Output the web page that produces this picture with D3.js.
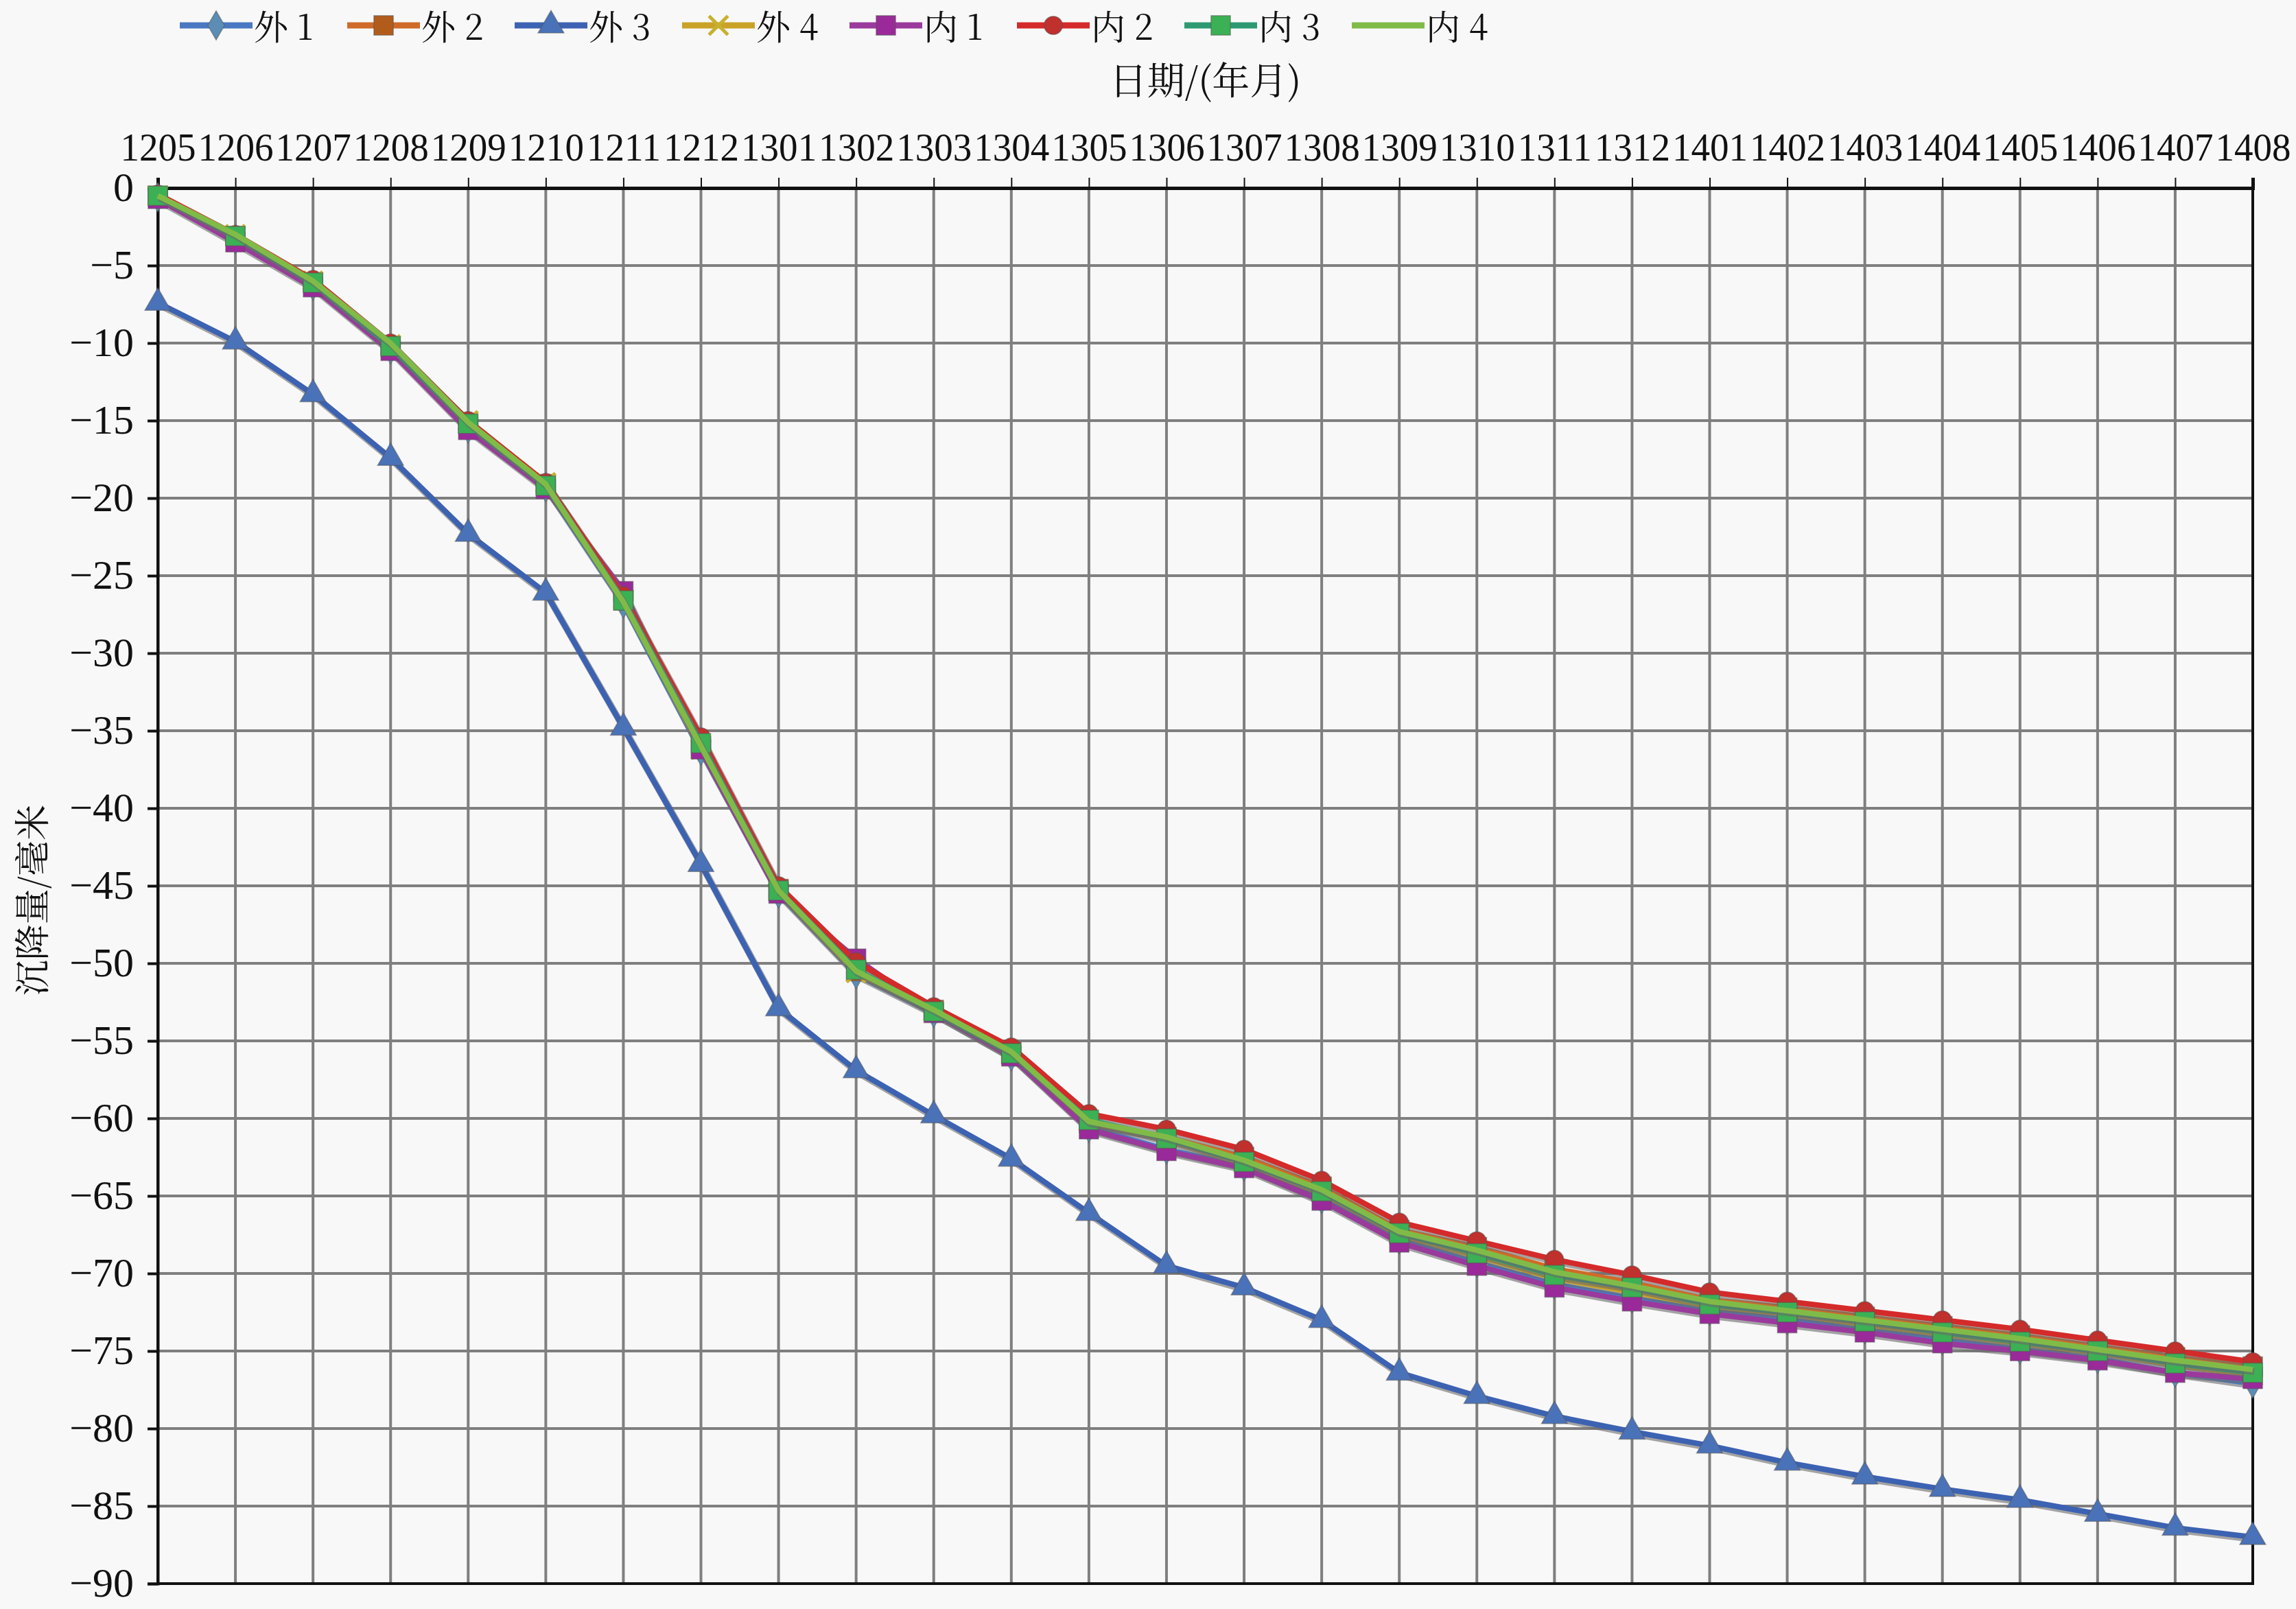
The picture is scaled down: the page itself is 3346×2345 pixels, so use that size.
<!DOCTYPE html>
<html><head><meta charset="utf-8">
<script src="https://cdn.jsdelivr.net/npm/d3@7"></script>
<style>html,body{margin:0;padding:0;background:#f8f8f8;}svg{display:block;}</style>
</head><body>
<svg id="c" width="3346" height="2345"></svg>
<script>
const categories = ["1205","1206","1207","1208","1209","1210","1211","1212","1301","1302","1303","1304","1305","1306","1307","1308","1309","1310","1311","1312","1401","1402","1403","1404","1405","1406","1407","1408"];
const yTicks = [0,-5,-10,-15,-20,-25,-30,-35,-40,-45,-50,-55,-60,-65,-70,-75,-80,-85,-90];
const seriesNames = ["外 1","外 2","外 3","外 4","内 1","内 2","内 3","内 4"];
const wai1 = [-0.6,-3.3,-6.3,-10.4,-15.5,-19.3,-26.8,-36.3,-45.5,-50.7,-53.2,-56.0,-60.6,-62.0,-63.1,-65.2,-67.8,-69.3,-70.7,-71.6,-72.4,-73.0,-73.6,-74.3,-74.9,-75.5,-76.4,-77.1];
const wai2 = [-0.5,-3.1,-6.1,-10.2,-15.2,-19.1,-26.6,-36.0,-45.2,-50.5,-53.0,-55.7,-60.3,-61.2,-62.5,-64.4,-67.2,-68.3,-69.7,-70.6,-71.7,-72.2,-72.8,-73.4,-74.0,-74.7,-75.4,-76.0];
const wai3 = [-7.4,-9.9,-13.3,-17.4,-22.3,-26.1,-34.8,-43.6,-52.9,-56.9,-59.8,-62.6,-66.1,-69.5,-70.9,-73.0,-76.4,-77.9,-79.2,-80.2,-81.1,-82.2,-83.1,-83.9,-84.6,-85.5,-86.4,-87.0];
const wai4 = [-0.5,-3.0,-6.0,-10.1,-15.0,-19.0,-26.5,-36.2,-45.4,-50.6,-53.1,-55.9,-60.2,-61.4,-62.9,-64.8,-67.5,-68.9,-70.3,-71.2,-72.1,-72.6,-73.3,-73.9,-74.5,-75.1,-75.9,-76.6];
const nei1 = [-0.7,-3.5,-6.4,-10.5,-15.6,-19.4,-26.0,-36.2,-45.5,-49.7,-53.2,-56.0,-60.7,-62.1,-63.2,-65.3,-68.0,-69.5,-70.9,-71.8,-72.6,-73.2,-73.8,-74.5,-75.0,-75.6,-76.4,-76.8];
const nei2 = [-0.4,-3.0,-5.9,-10.0,-15.0,-19.0,-26.3,-35.4,-45.0,-49.9,-52.8,-55.4,-59.7,-60.7,-62.0,-64.0,-66.7,-67.9,-69.1,-70.1,-71.2,-71.8,-72.4,-73.0,-73.6,-74.3,-75.0,-75.7];
const nei3 = [-0.5,-3.1,-6.1,-10.2,-15.2,-19.2,-26.6,-35.8,-45.3,-50.4,-53.1,-55.8,-60.1,-61.3,-62.8,-64.7,-67.4,-68.7,-70.1,-70.9,-72.0,-72.5,-73.1,-73.8,-74.4,-75.0,-75.8,-76.4];
const nei4 = [-0.5,-3.0,-6.0,-10.0,-15.1,-19.1,-26.7,-36.0,-45.3,-50.5,-53.0,-55.7,-60.2,-61.2,-62.7,-64.6,-67.3,-68.5,-69.9,-70.8,-71.8,-72.4,-73.0,-73.6,-74.2,-74.9,-75.6,-76.2];
const seriesValues = [wai1,wai2,wai3,wai4,nei1,nei2,nei3,nei4];
const lineColors = ["#4a78c2","#d06a28","#3c62b2","#c9a227","#9a3a9c","#d42a2a","#2e9a72","#80bb48"];
const markerColors = ["#5b8db5","#b25c1c","#4a72b8","#c8b030","#9a2a9a","#c0302c","#3cb054",null];
const markerTypes = ["diamond","square","triangle","x","square","circle","square","none"];

const svg = d3.select("#c");
svg.append("rect").attr("width",3346).attr("height",2345).attr("fill","#f8f8f8");
const L=230,R=3283,T=274,B=2308;
const x = d3.scalePoint().domain(categories).range([L,R]);
const y = d3.scaleLinear().domain([-90,0]).range([B,T]);
const serif = "'Liberation Serif','Times New Roman',serif";
const cjk = "'Noto Serif CJK SC','Liberation Serif','Noto Sans CJK SC',serif";

// grid
svg.append("g").selectAll("line").data(yTicks).join("line")
  .attr("x1",L).attr("x2",R).attr("y1",d=>y(d)).attr("y2",d=>y(d))
  .attr("stroke","#7f7f7f").attr("stroke-width",4);
svg.append("g").selectAll("line").data(categories).join("line")
  .attr("x1",d=>x(d)).attr("x2",d=>x(d)).attr("y1",T).attr("y2",B)
  .attr("stroke","#7f7f7f").attr("stroke-width",4);

// frame
svg.append("rect").attr("x",L).attr("y",T).attr("width",R-L).attr("height",B-T)
  .attr("fill","none").attr("stroke","#111").attr("stroke-width",4);

// top axis
const xAxis = d3.axisTop(x).tickSize(15).tickPadding(22).tickFormat(d=>d);
const gx = svg.append("g").attr("transform",`translate(0,${T})`).call(xAxis);
gx.select(".domain").attr("stroke","#111").attr("stroke-width",5);
gx.selectAll(".tick line").attr("stroke","#111").attr("stroke-width",2);
gx.selectAll(".tick text").attr("font-family",serif).attr("font-size",58).attr("fill","#111")
  .attr("transform","scale(0.95,1)").attr("x",0).attr("y",-40).attr("dy",0);

// left axis
const yAxis = d3.axisLeft(y).tickValues(yTicks).tickSize(15).tickPadding(20).tickFormat(d=>d===0?"0":"\u2212"+Math.abs(d));
const gy = svg.append("g").attr("transform",`translate(${L},0)`).call(yAxis);
gy.select(".domain").attr("stroke","#111").attr("stroke-width",4);
gy.selectAll(".tick line").attr("stroke","#111").attr("stroke-width",4);
gy.selectAll(".tick text").attr("font-family",serif).attr("font-size",60).attr("fill","#111").attr("dy","0.3em");

// titles
svg.append("text").attr("x",(L+R)/2).attr("y",137).attr("text-anchor","middle")
  .attr("font-family",cjk).attr("font-size",55).attr("fill","#111").text("日期/(年月)");
svg.append("text").attr("transform",`translate(66,1312) rotate(-90)`).attr("text-anchor","middle")
  .attr("font-family",cjk).attr("font-size",52).attr("fill","#111").text("沉降量/毫米");

function symbolPath(type){
  if(type==="diamond") return d3.symbol(d3.symbolDiamond,520)();
  if(type==="square") return d3.symbol(d3.symbolSquare,800)();
  if(type==="triangle") return d3.symbol(d3.symbolTriangle,620)();
  if(type==="circle") return d3.symbol(d3.symbolCircle,560)();
  if(type==="x") return d3.symbol(d3.symbolX,500)();
  return null;
}
function drawMarker(g,type,color){
  const p = symbolPath(type);
  if(!p) return;
  if(type==="x") g.append("path").attr("d",p).attr("fill","none").attr("stroke",color).attr("stroke-width",5);
  else g.append("path").attr("d",p).attr("fill",color).attr("stroke","#555").attr("stroke-opacity",0.5).attr("stroke-width",1.5);
}

const line = d3.line().x((d,i)=>x(categories[i])).y(d=>y(d));
seriesValues.forEach((vals,s)=>{
  const g = svg.append("g");
  g.append("path").datum(vals).attr("d",line).attr("fill","none")
    .attr("stroke","#6a6a6a").attr("stroke-width",10).attr("transform","translate(2,3)").attr("stroke-opacity",0.6);
  g.append("path").datum(vals).attr("d",line).attr("fill","none")
    .attr("stroke",lineColors[s]).attr("stroke-width",8).attr("stroke-linejoin","round");
  vals.forEach((v,i)=>{
    const mg = g.append("g").attr("transform",`translate(${x(categories[i])},${y(v)})`);
    drawMarker(mg,markerTypes[s],markerColors[s]);
  });
});

// legend
const lg = svg.append("g");
seriesNames.forEach((n,k)=>{
  const x0 = 262 + k*244, yc = 37;
  const it = lg.append("g");
  it.append("line").attr("x1",x0).attr("x2",x0+106).attr("y1",yc).attr("y2",yc)
    .attr("stroke",lineColors[k]).attr("stroke-width",9);
  const mg = it.append("g").attr("transform",`translate(${x0+53},${yc})`);
  drawMarker(mg,markerTypes[k],markerColors[k]);
  it.append("text").attr("x",x0+108).attr("y",yc+21).attr("font-family",cjk).attr("font-size",50)
    .attr("fill","#111").text(n);
});
</script>
</body></html>
